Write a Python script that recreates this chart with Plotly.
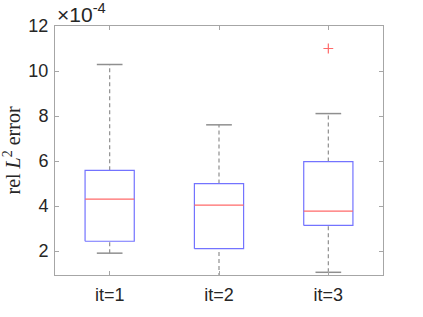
import plotly.graph_objects as go

# Data (values in units of 1e-4)
categories = ["it=1", "it=2", "it=3"]
lower_whisker = [1.91, 0.85, 1.06]
q1 = [2.44, 2.11, 3.14]
median = [4.31, 4.04, 3.78]
q3 = [5.59, 5.00, 5.98]
upper_whisker = [10.29, 7.61, 8.11]
outlier_cat = [3]
outlier_val = [11.0]
ytick_vals = [2, 4, 6, 8, 10, 12]

BOX_W = 0.45
CAP_W = 0.235
BLUE = "#7373ff"
RED = "#ff6a6a"
GRAY = "#8f8f8f"

fig = go.Figure()
positions = list(range(1, len(categories) + 1))

for i, p in enumerate(positions):
    # whiskers (dashed)
    fig.add_trace(go.Scatter(x=[p, p], y=[q3[i], upper_whisker[i]], mode="lines",
                             line=dict(color=GRAY, width=1.2, dash="4px,3px"),
                             showlegend=False, hoverinfo="skip"))
    fig.add_trace(go.Scatter(x=[p, p], y=[lower_whisker[i], q1[i]], mode="lines",
                             line=dict(color=GRAY, width=1.2, dash="4px,3px"),
                             showlegend=False, hoverinfo="skip"))
    # caps
    for yv in (upper_whisker[i], lower_whisker[i]):
        fig.add_trace(go.Scatter(x=[p - CAP_W / 2, p + CAP_W / 2], y=[yv, yv], mode="lines",
                                 line=dict(color=GRAY, width=1.5),
                                 showlegend=False, hoverinfo="skip"))
    # box
    fig.add_trace(go.Scatter(x=[p - BOX_W / 2, p + BOX_W / 2, p + BOX_W / 2, p - BOX_W / 2, p - BOX_W / 2],
                             y=[q1[i], q1[i], q3[i], q3[i], q1[i]], mode="lines",
                             line=dict(color=BLUE, width=1.2),
                             showlegend=False, hoverinfo="skip"))
    # median
    fig.add_trace(go.Scatter(x=[p - BOX_W / 2, p + BOX_W / 2], y=[median[i], median[i]], mode="lines",
                             line=dict(color=RED, width=1.2),
                             showlegend=False, hoverinfo="skip"))

fig.add_trace(go.Scatter(x=outlier_cat, y=outlier_val, mode="markers",
                         marker=dict(symbol="cross-thin", size=7, line=dict(color=RED, width=1.2)),
                         showlegend=False, hoverinfo="skip"))

fig.update_layout(
    width=423, height=317,
    margin=dict(l=55, r=40, t=26, b=35),
    plot_bgcolor="white", paper_bgcolor="white",
    font=dict(family="Liberation Sans, Arial, sans-serif", size=18, color="#262626"),
)
fig.update_xaxes(range=[0.5, 3.5], tickvals=positions, ticktext=categories,
                 showgrid=False, zeroline=False, showline=True, linecolor="#a6a6a6", linewidth=1,
                 mirror="ticks", ticks="inside", ticklen=4, tickcolor="#a6a6a6", ticklabelstandoff=3)
fig.update_yaxes(range=[0.94, 12], tickvals=ytick_vals, ticktext=[str(v) for v in ytick_vals],
                 showgrid=False, zeroline=False, showline=True, linecolor="#a6a6a6", linewidth=1,
                 mirror="ticks", ticks="inside", ticklen=4, tickcolor="#a6a6a6",
                 ticklabelstandoff=2)

fig.add_annotation(xref="paper", yref="paper", x=0, y=1, xanchor="left", yanchor="bottom",
                   text="×10<sup>-4</sup>", showarrow=False, yshift=-2, xshift=0,
                   font=dict(family="Liberation Sans, Arial, sans-serif", size=21, color="#262626"))
fig.add_annotation(xref="paper", yref="paper", x=0, y=0.5, xanchor="center", yanchor="middle",
                   xshift=-44, textangle=-90,
                   text="rel <i>L</i><sup>2</sup> error", showarrow=False,
                   font=dict(family="Liberation Serif, Times New Roman, serif", size=20, color="#262626"))

fig.write_html("out.html")
